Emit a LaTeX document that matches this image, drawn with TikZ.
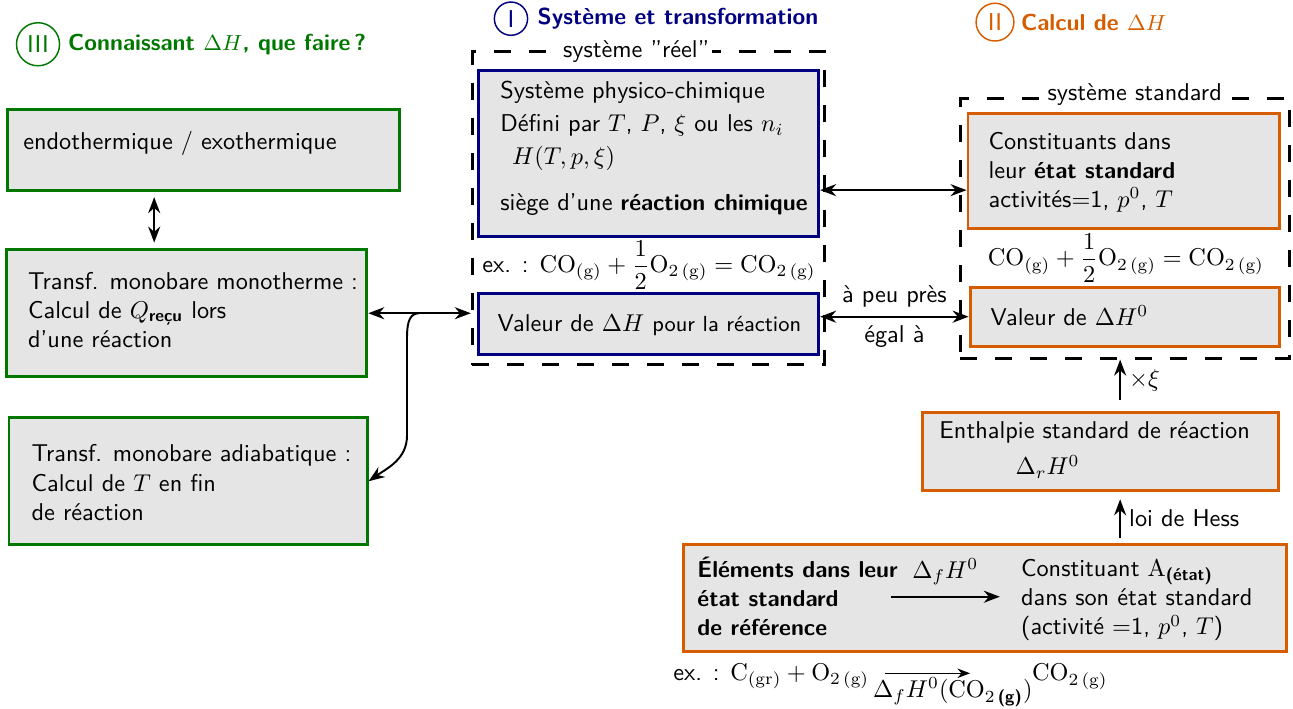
\documentclass[tikz,border=0pt]{standalone}
\usepackage{amsmath}
\usetikzlibrary{arrows.meta,positioning}
\renewcommand{\familydefault}{\sfdefault}
\newcommand{\gras}{\fontseries{bx}\fontsize{9.5}{12}\selectfont}
\newcommand{\tgras}[1]{{\gras #1}}
\definecolor{vertIII}{RGB}{0,120,0}
\definecolor{bleuI}{RGB}{0,0,128}
\definecolor{orangeII}{RGB}{214,92,0}

\begin{document}
\begin{tikzpicture}[>=Stealth,
  boite/.style={rectangle, draw, fill=gray!20, line width=1.2pt, inner sep=0pt},
  boiteIII/.style={boite, draw=vertIII},
  boiteI/.style={boite, draw=bleuI},
  boiteII/.style={boite, draw=orangeII},
  texte/.style={anchor=west, align=left, inner sep=0pt},
  cadre/.style={draw, line width=1.2pt, dash pattern=on 7pt off 7.4pt, inner sep=0pt},
  etiq/.style={fill=white, inner sep=1pt},
  titre/.style={anchor=west, font=\gras, inner sep=0pt},
  num/.style={circle, draw, line width=0.6pt, minimum size=0.43cm, inner sep=2.3pt},
  fleche/.style={line width=0.8pt}
]
\useasboundingbox (0,0) rectangle (18.70,-10.25);
% titres
\node[num, draw=vertIII, text=vertIII] (numIII) at (0.55,-0.64) {III};
\node[titre, text=vertIII] (titreIII) at (0.98,-0.65) {Connaissant $\Delta H$, que faire\,?};
\node[num, draw=bleuI, text=bleuI] (numI) at (7.39,-0.27) {I};
\node[titre, text=bleuI] (titreI) at (7.77,-0.27) {Système et transformation};
\node[num, draw=orangeII, text=orangeII] (numII) at (14.39,-0.32) {II};
\node[titre, text=orangeII] (titreII) at (14.76,-0.32) {Calcul de $\Delta H$};
% partie III
\node[boiteIII, minimum width=5.67cm, minimum height=1.16cm] (endo) at (2.94,-2.17) {};
\node[texte] (tendo) at (0.33,-2.08) {endothermique / exothermique};
\node[boiteIII, minimum width=5.21cm, minimum height=1.84cm] (mono) at (2.70,-4.53) {};
\node[texte] (tmono) at (0.40,-4.48) {Transf. monobare monotherme :\\ Calcul de $Q_{\textbf{reçu}}$ lors\\ d'une réaction};
\node[boiteIII, minimum width=5.18cm, minimum height=1.84cm] (adia) at (2.72,-6.96) {};
\node[texte] (tadia) at (0.45,-6.98) {Transf. monobare adiabatique :\\ Calcul de $T$ en fin\\ de réaction};
% partie I
\node[cadre, minimum width=5.10cm, minimum height=4.53cm] (reel) at (9.38,-3.01) {};
\node[etiq] (treel) at (9.20,-0.75) {système "réel"};
\node[boiteI, minimum width=4.92cm, minimum height=2.41cm] (physico) at (9.38,-2.22) {};
\node[texte] (tphysico) at (7.23,-2.15) {Système physico-chimique\\[1.5pt] Défini par $T$, $P$, $\xi$ ou les $n_i$\\[1.5pt] \hspace{0.17cm}$H(T,p,\xi)$\\[7pt] siège d'une \tgras{réaction chimique}};
\node[texte] (exI) at (6.97,-3.83) {ex. : $\mathrm{CO_{(g)}}+\dfrac{1}{2}\mathrm{O_{2\,(g)}}=\mathrm{CO_{2\,(g)}}$};
\node[boiteI, minimum width=4.92cm, minimum height=0.88cm] (valeur) at (9.38,-4.69) {};
\node[texte] (tvaleur) at (7.19,-4.70) {Valeur de $\Delta H$ {\small pour la réaction}};
% partie II
\node[cadre, minimum width=4.76cm, minimum height=3.76cm] (standard) at (16.27,-3.30) {};
\node[etiq] (tstandard) at (16.41,-1.37) {système standard};
\node[boiteII, minimum width=4.50cm, minimum height=1.66cm] (constituants) at (16.25,-2.47) {};
\node[texte] (tconst) at (14.29,-2.49) {Constituants dans\\ leur \tgras{état standard}\\ activités$=$1, $p^0$, $T$};
\node[texte] (eqII) at (14.28,-3.73) {$\mathrm{CO_{(g)}}+\dfrac{1}{2}\mathrm{O_{2\,(g)}}=\mathrm{CO_{2\,(g)}}$};
\node[boiteII, minimum width=4.48cm, minimum height=0.85cm] (valeurH0) at (16.27,-4.58) {};
\node[texte] (tvaleurH0) at (14.32,-4.57) {Valeur de $\Delta H^0$};
\node[boiteII, minimum width=5.15cm, minimum height=1.14cm] (enthalpie) at (15.92,-6.53) {};
\node[texte] (tenthalpie) at (13.58,-6.51) {Enthalpie standard de réaction\\[3pt] \hspace{1.1cm}$\Delta_r H^0$};
\node[boiteII, minimum width=8.72cm, minimum height=1.55cm] (hess) at (14.24,-8.65) {};
\node[texte, font=\gras] (elements) at (10.08,-8.63) {Éléments dans leur\\ état standard\\ de référence};
\node[texte] (constA) at (14.76,-8.68) {Constituant $\mathrm{A}_{\textbf{(état)}}$\\ dans son état standard\\ (activité $=$1, $p^0$, $T$)};
\node[texte] (exII) at (9.73,-9.78) {ex. : $\mathrm{C_{(gr)}}+\mathrm{O_{2\,(g)}}$};
\node[texte] (dfCO2) at (12.62,-10.01) {$\Delta_f H^0(\mathrm{CO}_{2\,\textbf{(g)}})$};
\node[texte] (CO2) at (14.92,-9.79) {$\mathrm{CO_{2\,(g)}}$};
% fleches
\draw[fleche, <->, shorten <=0.08cm, shorten >=0.08cm] ([xshift=-0.71cm]endo.south) -- ([xshift=-0.71cm]endo.south |- mono.north);
\draw[fleche, <->] (mono.east) -- (mono.east -| reel.west);
\draw[fleche, ->] ([xshift=0.73cm]mono.east) to[out=180,in=90] ++(-0.17,-0.40) -- ++(0,-1.37) to[out=-90,in=35] (adia.east);
\draw[fleche, <->] ([yshift=-0.53cm]physico.east) -- ([yshift=-0.53cm]physico.east -| constituants.west);
\draw[fleche, <->] (valeurH0.west -| valeur.east) -- (valeurH0.west) node[midway, above] {à peu près} node[midway, below] {égal à};
\draw[fleche, ->] ([xshift=0.28cm, yshift=0.15cm]enthalpie.north) -- ([xshift=0.28cm]enthalpie.north |- standard.south) node[midway, right] {$\times\xi$};
\draw[fleche, ->, shorten <=0.07cm, shorten >=0.1cm] ([xshift=0.28cm]enthalpie.south |- hess.north) -- ([xshift=0.28cm]enthalpie.south) node[midway, right] {loi de Hess};
\draw[fleche, ->] ([xshift=-0.11cm]elements.east) -- ([xshift=-0.3cm]elements.east -| constA.west) node[midway, above=1pt] {$\Delta_f H^0$};
\draw[line width=0.5pt, ->] ([xshift=0.18cm, yshift=0.06cm]dfCO2.north west) -- ([xshift=1.41cm, yshift=0.06cm]dfCO2.north west);
\end{tikzpicture}
\end{document}
